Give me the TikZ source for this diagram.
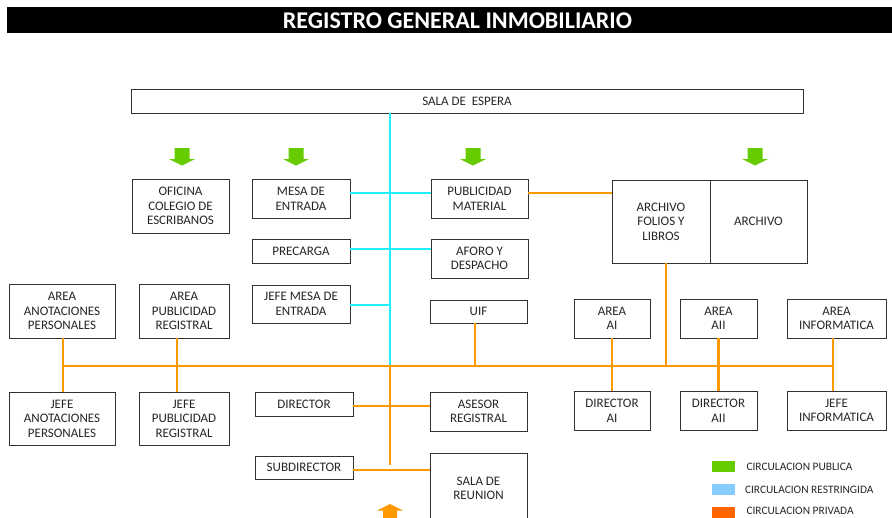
\documentclass[tikz,border=0pt]{standalone}
\usepackage{fontspec}
\setmainfont{Carlito}
\definecolor{priv}{HTML}{FF9900}
\definecolor{restr}{HTML}{22EEFF}
\definecolor{pub}{HTML}{66CC00}
\definecolor{legrestr}{HTML}{88CCFF}
\definecolor{legpriv}{HTML}{FF6600}
\definecolor{boxline}{HTML}{333333}
\begin{document}
\begin{tikzpicture}[x=1pt,y=-1pt,
  box/.style={draw=boxline,line width=0.9pt,fill=white,align=center,inner sep=0pt,
    font=\fontsize{13}{14.6}\selectfont,text=black!85},
  privline/.style={draw=priv,line width=2.6pt},
  restrline/.style={draw=restr,line width=2.6pt},
  pubarrow/.style={fill=pub},
  legtext/.style={anchor=west,font=\fontsize{11.4}{13}\selectfont,text=black!85}]
\useasboundingbox (0,0) rectangle (892,517);
% title bar
\fill[black] (7,7) rectangle (892,33);
\node[text=white,font=\fontsize{24}{26}\selectfont\bfseries] (title) at (457.5,21) {REGISTRO GENERAL INMOBILIARIO};
% boxes
\node[box,minimum width=672pt,minimum height=24pt] (espera) at (467,101) {SALA DE\ \ ESPERA};
\node[box,minimum width=97pt,minimum height=54pt] (oficina) at (180.5,206) {OFICINA\\COLEGIO DE\\ESCRIBANOS};
\node[box,minimum width=98pt,minimum height=39pt] (mesa) at (301,198.5) {MESA DE\\ENTRADA};
\node[box,minimum width=98pt,minimum height=24pt] (precarga) at (301,251) {PRECARGA};
\node[box,minimum width=98pt,minimum height=38pt] (jefemesa) at (301,304) {JEFE MESA DE\\ENTRADA};
\node[box,minimum width=97pt,minimum height=39pt] (pubmat) at (479.5,198.5) {PUBLICIDAD\\MATERIAL};
\node[box,minimum width=97pt,minimum height=39pt] (aforo) at (479.5,258.5) {AFORO Y\\DESPACHO};
\node[box,minimum width=97pt,minimum height=23pt] (uif) at (478.5,311.5) {UIF};
\node[box,minimum width=98pt,minimum height=83pt] (archfol) at (661,221.5) {ARCHIVO\\FOLIOS Y\\LIBROS};
\node[box,minimum width=97pt,minimum height=83pt] (arch) at (758.5,221.5) {ARCHIVO};
\node[box,minimum width=76pt,minimum height=39pt] (areaai) at (612,318.5) {AREA\\AI};
\node[box,minimum width=77pt,minimum height=39pt] (areaaii) at (718.5,318.5) {AREA\\AII};
\node[box,minimum width=99pt,minimum height=39pt] (areainf) at (836.5,318.5) {AREA\\INFORMATICA};
\node[box,minimum width=106pt,minimum height=54pt] (areaanot) at (62,311) {AREA\\ANOTACIONES\\PERSONALES};
\node[box,minimum width=90pt,minimum height=54pt] (areapub) at (184,311) {AREA\\PUBLICIDAD\\REGISTRAL};
\node[box,minimum width=106pt,minimum height=53pt] (jefeanot) at (62,418.5) {JEFE\\ANOTACIONES\\PERSONALES};
\node[box,minimum width=90pt,minimum height=53pt] (jefepub) at (184,418.5) {JEFE\\PUBLICIDAD\\REGISTRAL};
\node[box,minimum width=98pt,minimum height=24pt] (director) at (304,404) {DIRECTOR};
\node[box,minimum width=98pt,minimum height=23pt] (subdir) at (304,467.5) {SUBDIRECTOR};
\node[box,minimum width=97pt,minimum height=39pt] (asesor) at (478.5,411.5) {ASESOR\\REGISTRAL};
\node[box,minimum width=97pt,minimum height=71pt] (reunion) at (478.5,488.5) {SALA DE\\REUNION};
\node[box,minimum width=76pt,minimum height=39pt] (dirai) at (612,410.5) {DIRECTOR\\AI};
\node[box,minimum width=77pt,minimum height=39pt] (diraii) at (718.5,410.5) {DIRECTOR\\AII};
\node[box,minimum width=99pt,minimum height=39pt] (jefeinf) at (836.5,410.5) {JEFE\\INFORMATICA};
% coordinates of the spine
\coordinate (spTop) at ([xshift=-77pt]espera.south);
\coordinate (spMid) at (390,366);
\coordinate (spBot) at (390,465);
\coordinate (hL) at (63,366);
\coordinate (hR) at (833,366);
% restricted circulation (cyan)
\draw[restrline] (spTop) -- (spMid);
\draw[restrline] ([yshift=5.5pt]mesa.east) -- ([yshift=5.5pt]mesa.east -| pubmat.west);
\draw[restrline] ([yshift=2pt]precarga.east) -- ([yshift=2pt]precarga.east -| aforo.west);
\draw[restrline] ([yshift=-1pt]jefemesa.east) -- ([yshift=-1pt]jefemesa.east -| spTop);
% private circulation (orange)
\draw[privline] (hL) -- (hR);
\draw[privline] (spMid) -- (spBot);
\draw[privline] ([yshift=5.5pt]pubmat.east) -- ([yshift=5.5pt]pubmat.east -| archfol.west);
\draw[privline] ([xshift=1pt]areaanot.south) -- ([xshift=1pt]jefeanot.north);
\draw[privline] ([xshift=-7pt]areapub.south) -- ([xshift=-7pt]jefepub.north);
\draw[privline] ([xshift=-3.5pt]uif.south) -- ([xshift=-3.5pt]uif.south |- hL);
\draw[privline] (areaai.south) -- (dirai.north);
\draw[privline] (areaaii.south) -- (diraii.north);
\draw[privline] ([xshift=-3.5pt]areainf.south) -- ([xshift=-3.5pt]jefeinf.north);
\draw[privline] ([xshift=5pt]archfol.south) -- ([xshift=5pt]archfol.south |- hL);
\draw[privline] ([yshift=-2pt]director.east) -- ([yshift=-2pt]director.east -| asesor.west);
\draw[privline] ([yshift=-2.5pt]subdir.east) -- ([yshift=-2.5pt]subdir.east -| reunion.west);
% public circulation arrows (green)
\foreach \ax in {182,296,473,755}{
  \fill[pubarrow] (\ax-7.5,148) -- (\ax+7.5,148) -- (\ax+7.5,159) -- (\ax+13,159) -- (\ax,165.5) -- (\ax-13,159) -- (\ax-7.5,159) -- cycle;
}
% private arrow (orange, upward)
\fill[priv] (390,504) -- (403,510.5) -- (397,510.5) -- (397,520) -- (383,520) -- (383,510.5) -- (377,510.5) -- cycle;
% legend
\fill[pub] (712,461) rectangle (735,472);
\fill[legrestr] (712,484) rectangle (735,495);
\fill[legpriv] (712,507) rectangle (735,518);
\node[legtext] (l1) at (743,467) {CIRCULACION PUBLICA};
\node[legtext] (l2) at (741.5,490) {CIRCULACION RESTRINGIDA};
\node[legtext,inner ysep=1pt] (l3) at (743,511) {CIRCULACION PRIVADA};
\end{tikzpicture}
\end{document}
